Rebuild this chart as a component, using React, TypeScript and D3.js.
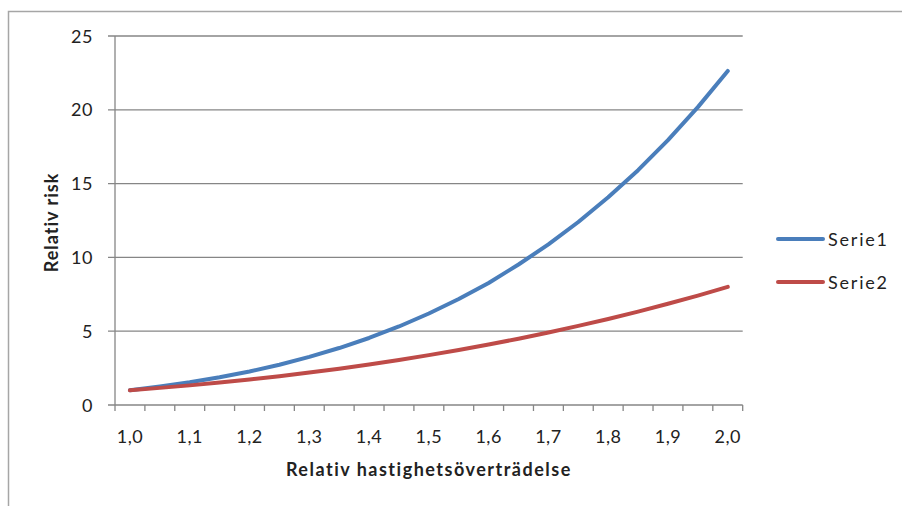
import React from "react";
import * as d3 from "d3";

// Relative speed categories (1,00 … 2,00 in steps of 0,05)
const categories = [
  "1,00", "1,05", "1,10", "1,15", "1,20", "1,25", "1,30", "1,35", "1,40", "1,45",
  "1,50", "1,55", "1,60", "1,65", "1,70", "1,75", "1,80", "1,85", "1,90", "1,95", "2,00",
];
// Only every second category carries a label
const categoryLabels = [
  "1,0", "", "1,1", "", "1,2", "", "1,3", "", "1,4", "",
  "1,5", "", "1,6", "", "1,7", "", "1,8", "", "1,9", "", "2,0",
];
const serie1 = [
  1.0, 1.25, 1.54, 1.88, 2.27, 2.73, 3.26, 3.86, 4.54, 5.32,
  6.2, 7.18, 8.27, 9.52, 10.88, 12.4, 14.07, 15.91, 17.94, 20.18, 22.63,
];
const serie2 = [
  1.0, 1.16, 1.33, 1.52, 1.73, 1.95, 2.2, 2.46, 2.74, 3.05,
  3.38, 3.72, 4.1, 4.49, 4.91, 5.36, 5.83, 6.33, 6.86, 7.41, 8.0,
];
const yTicks = [0, 5, 10, 15, 20, 25];
const seriesNames = ["Serie1", "Serie2"];
const seriesColors = ["#4a7ebb", "#be4b48"];

const W = 902;
const H = 506;
const plot = { left: 115, right: 742.7, top: 36, bottom: 405 };
const FONT = "Lato, 'Noto Sans', sans-serif";
const AXIS = "#868686";

export default function App() {
  const x = d3
    .scaleBand<string>()
    .domain(categories)
    .range([plot.left, plot.right])
    .padding(0);
  const bw = x.bandwidth();
  const y = d3.scaleLinear().domain([0, 25]).range([plot.bottom, plot.top]);

  const line = d3
    .line<number>()
    .x((_, i) => (x(categories[i]) as number) + bw / 2)
    .y((d) => y(d));

  const seriesData = [serie1, serie2];

  // tick marks sit on category boundaries
  const boundaries = categories.map((c) => x(c) as number).concat([plot.right]);

  return (
    <svg
      width={W}
      height={H}
      style={{ position: "absolute", left: 0, top: 0, background: "#fff" }}
      fontFamily={FONT}
    >
      {/* chart frame */}
      <rect x={8.5} y={11.5} width={W + 10} height={H + 10} fill="none" stroke="#a6a6a6" strokeWidth={1.5} />

      {/* horizontal gridlines with left tick marks */}
      {yTicks.map((t) => (
        <g key={t}>
          <line x1={plot.left - 7} x2={plot.right} y1={y(t)} y2={y(t)} stroke={AXIS} strokeWidth={1.3} />
          <text x={93} y={y(t) + 6.5} textAnchor="end" fontSize={18} fill="#222" letterSpacing={0.5}>
            {t}
          </text>
        </g>
      ))}

      {/* y axis */}
      <line x1={plot.left} x2={plot.left} y1={plot.top} y2={plot.bottom} stroke={AXIS} strokeWidth={1.3} />

      {/* x axis ticks */}
      {boundaries.map((bx, i) => (
        <line key={i} x1={bx} x2={bx} y1={plot.bottom} y2={plot.bottom + 6} stroke={AXIS} strokeWidth={1.3} />
      ))}
      {categories.map((c, i) =>
        categoryLabels[i] ? (
          <text
            key={c}
            x={(x(c) as number) + bw / 2}
            y={443}
            textAnchor="middle"
            fontSize={18}
            fill="#222"
            letterSpacing={0.5}
          >
            {categoryLabels[i]}
          </text>
        ) : null
      )}

      {/* series lines */}
      {seriesData.map((s, k) => (
        <path
          key={k}
          d={line(s) as string}
          fill="none"
          stroke={seriesColors[k]}
          strokeWidth={4}
          strokeLinejoin="round"
          strokeLinecap="round"
        />
      ))}

      {/* axis titles */}
      <text
        x={(plot.left + plot.right) / 2}
        y={476}
        textAnchor="middle"
        fontSize={18}
        fontWeight="bold"
        fill="#222"
        letterSpacing={1.5}
      >
        Relativ hastighetsöverträdelse
      </text>
      <text
        transform={`translate(58, ${(plot.top + plot.bottom) / 2 + 2}) rotate(-90)`}
        textAnchor="middle"
        fontSize={18}
        fontWeight="bold"
        fill="#222"
        letterSpacing={1}
      >
        Relativ risk
      </text>

      {/* legend */}
      {seriesNames.map((n, k) => {
        const ly = 239 + k * 43;
        return (
          <g key={n}>
            <line x1={778} x2={823} y1={ly} y2={ly} stroke={seriesColors[k]} strokeWidth={4} strokeLinecap="round" />
            <text x={828} y={ly + 6.5} fontSize={18} letterSpacing={1.8} fill="#222">
              {n}
            </text>
          </g>
        );
      })}
    </svg>
  );
}
